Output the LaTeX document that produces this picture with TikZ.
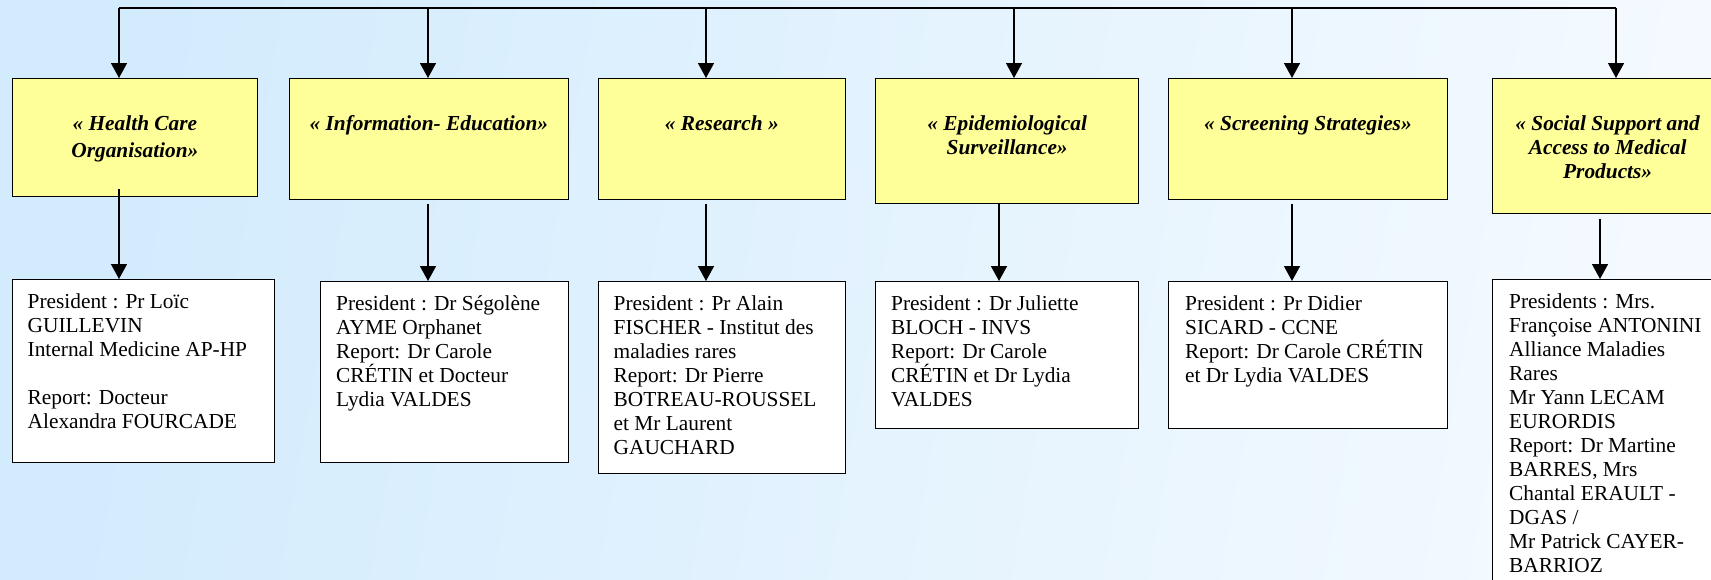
\documentclass[tikz,border=0pt]{standalone}
\usepackage{fontspec}
\setmainfont{Liberation Serif}
\usetikzlibrary{arrows.meta,positioning}
\definecolor{bgleft}{RGB}{210,235,253}
\definecolor{bgright}{RGB}{244,250,255}
\definecolor{boxyellow}{RGB}{255,255,153}
\tikzset{
ybox/.style={draw, fill=boxyellow, line width=1.3pt, inner sep=0pt, anchor=north west},
wbox/.style={draw, fill=white, line width=1.3pt, inner sep=0pt, anchor=north west},
head/.style={inner sep=0pt, align=center, font=\fontsize{21.35}{24}\selectfont\bfseries\itshape},
members/.style={inner sep=0pt, align=left, font=\fontsize{21.35}{24}\selectfont},
arr/.style={line width=1.5pt, -{Triangle[length=15pt,width=16pt]}}
}
\begin{document}
\begin{tikzpicture}[x=1pt,y=-1pt]
\path[use as bounding box] (0,0) rectangle (1711,579);
\clip (0,0) rectangle (1711,579);
\shade[left color=bgleft, right color=bgright, shading angle=80] (0,0) rectangle (1711,579);

\node[ybox, minimum width=245.5pt, minimum height=118pt] (Y1) at (11.5,78) {};
\node[ybox, minimum width=278.5pt, minimum height=121pt] (Y2) at (289,78) {};
\node[ybox, minimum width=247.5pt, minimum height=121pt] (Y3) at (597.5,78) {};
\node[ybox, minimum width=263pt, minimum height=125pt] (Y4) at (875,78) {};
\node[ybox, minimum width=278.5pt, minimum height=121pt] (Y5) at (1168,78) {};
\node[ybox, minimum width=230pt, minimum height=135pt] (Y6) at (1492,78) {};

\node[head, below=37pt of Y1.north] (T1) {« Health Care\\[3pt] Organisation»};
\node[head, below=37pt of Y2.north] (T2) {« Information- Education»};
\node[head, below=37pt of Y3.north] (T3) {« Research »};
\node[head, below=37pt of Y4.north] (T4) {« Epidemiological\\ Surveillance»};
\node[head, below=37pt of Y5.north] (T5) {« Screening Strategies»};
\node[head, below=37pt of Y6.north] (T6) {« Social Support and\\ Access to Medical\\ Products»};

\node[wbox, minimum width=262.5pt, minimum height=183pt] (W1) at (11.5,279) {};
\node[wbox, minimum width=247.5pt, minimum height=181pt] (W2) at (320,281) {};
\node[wbox, minimum width=247.5pt, minimum height=192pt] (W3) at (597.5,281) {};
\node[wbox, minimum width=263pt, minimum height=147pt] (W4) at (875,281) {};
\node[wbox, minimum width=278.5pt, minimum height=147pt] (W5) at (1168,281) {};
\node[wbox, minimum width=230pt, minimum height=330pt] (W6) at (1492,279) {};

\node[members, below right=14pt and 16pt of W1.north west] (M1) {President : Pr Loïc\\ GUILLEVIN\\ Internal Medicine AP-HP\\[24pt] Report: Docteur\\ Alexandra FOURCADE};
\node[members, below right=14pt and 16pt of W2.north west] (M2) {President : Dr Ségolène\\ AYME Orphanet\\ Report: Dr Carole\\ CRÉTIN et Docteur\\ Lydia VALDES};
\node[members, below right=14pt and 16pt of W3.north west] (M3) {President : Pr Alain\\ FISCHER - Institut des\\ maladies rares\\ Report: Dr Pierre\\ BOTREAU-ROUSSEL\\ et Mr Laurent\\ GAUCHARD};
\node[members, below right=14pt and 16pt of W4.north west] (M4) {President : Dr Juliette\\ BLOCH - INVS\\ Report: Dr Carole\\ CRÉTIN et Dr Lydia\\ VALDES};
\node[members, below right=14pt and 17pt of W5.north west] (M5) {President : Pr Didier\\ SICARD - CCNE\\ Report: Dr Carole CRÉTIN\\ et Dr Lydia VALDES};
\node[members, below right=14pt and 17pt of W6.north west] (M6) {Presidents : Mrs.\\ Françoise ANTONINI\\ Alliance Maladies\\ Rares\\ Mr Yann LECAM\\ EURORDIS\\ Report: Dr Martine\\ BARRES, Mrs\\ Chantal ERAULT -\\ DGAS /\\ Mr Patrick CAYER-\\ BARRIOZ};

\coordinate (t1) at (119,8);
\coordinate (t2) at (428,8);
\coordinate (t3) at (706,8);
\coordinate (t4) at (1014,8);
\coordinate (t5) at (1292,8);
\coordinate (t6) at (1616,8);
\coordinate (d4) at (999,8);
\coordinate (d6) at (1600,8);

\path[draw, line width=1.5pt] (t1)--(t6);
\path[draw, arr] (t1)--(t1 |- Y1.north);
\path[draw, arr] (t2)--(t2 |- Y2.north);
\path[draw, arr] (t3)--(t3 |- Y3.north);
\path[draw, arr] (t4)--(t4 |- Y4.north);
\path[draw, arr] (t5)--(t5 |- Y5.north);
\path[draw, arr] (t6)--(t6 |- Y6.north);

\path[draw, arr, shorten <=-8pt] (Y1.south -| t1)--(t1 |- W1.north);
\path[draw, arr, shorten <=4pt] (Y2.south -| t2)--(t2 |- W2.north);
\path[draw, arr, shorten <=4pt] (Y3.south -| t3)--(t3 |- W3.north);
\path[draw, arr] (Y4.south -| d4)--(d4 |- W4.north);
\path[draw, arr, shorten <=4pt] (Y5.south -| t5)--(t5 |- W5.north);
\path[draw, arr, shorten <=5pt] (Y6.south -| d6)--(d6 |- W6.north);
\end{tikzpicture}
\end{document}
